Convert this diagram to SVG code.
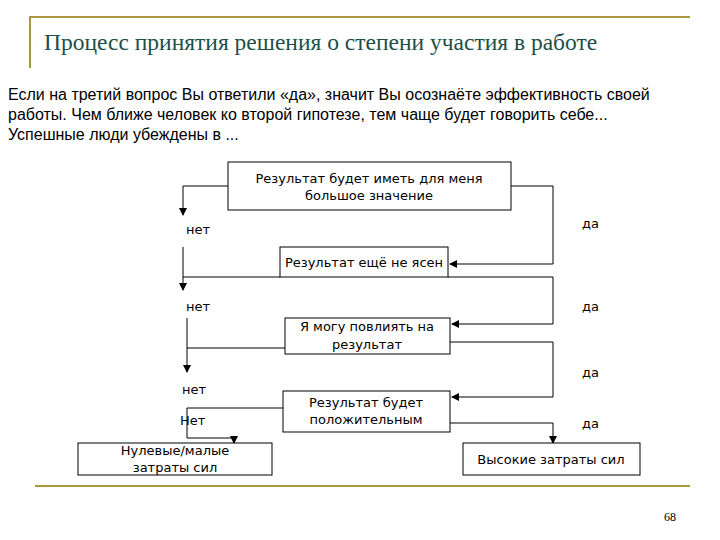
<svg xmlns="http://www.w3.org/2000/svg" width="720" height="540" viewBox="0 0 720 540">
<defs>
<style>
.t{font-family:"DejaVu Sans","Liberation Sans",sans-serif;font-size:13px;fill:#000}
.b{font-family:"Liberation Sans",Arial,sans-serif;font-size:16px;fill:#000}
.box{fill:#fff;stroke:#000;stroke-width:1}
.c{fill:none;stroke:#000;stroke-width:1}
</style>
<marker id="ah" markerWidth="8" markerHeight="8" refX="7" refY="4" orient="auto" markerUnits="userSpaceOnUse"><path d="M0,0 L8,4 L0,8 z" fill="#000"/></marker>
</defs>
<rect width="720" height="540" fill="#fff"/>
<path d="M30,68 V17 H690" fill="none" stroke="#a89a3c" stroke-width="2"/>
<line x1="35" y1="486" x2="690" y2="486" stroke="#a89a3c" stroke-width="2"/>
<text x="44" y="50" font-family="Liberation Serif,serif" font-size="23.5" fill="#1d5048">Процесс принятия решения о степени участия в работе</text>
<text class="b" x="8" y="100">Если на третий вопрос Вы ответили «да», значит Вы осознаёте эффективность своей</text>
<text class="b" x="8" y="120">работы. Чем ближе человек ко второй гипотезе, тем чаще будет говорить себе...</text>
<text class="b" x="8" y="140">Успешные люди убеждены в ...</text>
<text x="664" y="521" font-family="Liberation Serif,serif" font-size="12">68</text>
<g id="connectors">
<path class="c" d="M228,186 H183 V215" marker-end="url(#ah)"/>
<path class="c" d="M183,247 V290" marker-end="url(#ah)"/>
<path class="c" d="M280,277 H183"/>
<path class="c" d="M511,186 H553 V264 H450" marker-end="url(#ah)"/>
<path class="c" d="M448,277 H553 V324 H452" marker-end="url(#ah)"/>
<path class="c" d="M187,318 V372" marker-end="url(#ah)"/>
<path class="c" d="M285,348 H187"/>
<path class="c" d="M450,342 H553 V397 H452" marker-end="url(#ah)"/>
<path class="c" d="M283,408 H187 V438 H234 V443" marker-end="url(#ah)"/>
<path class="c" d="M450,423 H553 V443" marker-end="url(#ah)"/>
</g>
<g id="n1"><rect class="box" x="228" y="162" width="283" height="48"/><text class="t" x="369" y="183" text-anchor="middle">Результат будет иметь для меня</text><text class="t" x="369" y="200" text-anchor="middle">большое значение</text></g>
<g id="n2"><rect class="box" x="280" y="247" width="168" height="30"/><text class="t" x="364" y="267" text-anchor="middle">Результат ещё не ясен</text></g>
<g id="n3"><rect class="box" x="285" y="318" width="165" height="36"/><text class="t" x="367" y="331" text-anchor="middle">Я могу повлиять на</text><text class="t" x="367" y="349" text-anchor="middle">результат</text></g>
<g id="n4"><rect class="box" x="283" y="391" width="167" height="41"/><text class="t" x="366" y="407" text-anchor="middle">Результат будет</text><text class="t" x="366" y="424" text-anchor="middle">положительным</text></g>
<g id="n5"><rect class="box" x="78" y="443" width="194" height="32"/><text class="t" x="175" y="455" text-anchor="middle">Нулевые/малые</text><text class="t" x="175" y="472" text-anchor="middle">затраты сил</text></g>
<g id="n6"><rect class="box" x="463" y="443" width="177" height="32"/><text class="t" x="551" y="464" text-anchor="middle">Высокие затраты сил</text></g>
<g id="labels">
<text class="t" x="186" y="234">нет</text>
<text class="t" x="186" y="311">нет</text>
<text class="t" x="182" y="394">нет</text>
<text class="t" x="180" y="425">Нет</text>
<text class="t" x="582" y="228">да</text>
<text class="t" x="582" y="311">да</text>
<text class="t" x="582" y="377">да</text>
<text class="t" x="582" y="428">да</text>
</g>
</svg>
